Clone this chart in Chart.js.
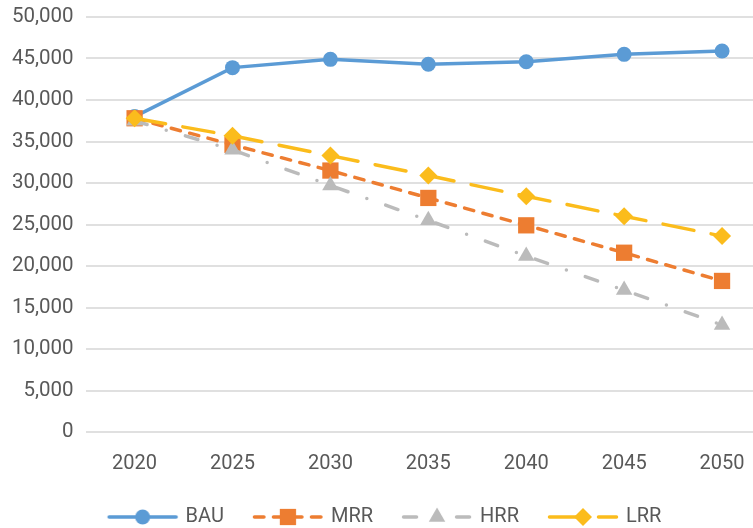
<!DOCTYPE html>
<html>
<head>
<meta charset="utf-8">
<script src="https://cdn.jsdelivr.net/npm/chart.js@4.4.1/dist/chart.umd.min.js"></script>
<style>
  html, body { margin: 0; padding: 0; background: #fff; overflow: hidden; }
  canvas { display: block; }
</style>
</head>
<body>
<canvas id="chart" width="771" height="537"></canvas>
<script>
// data
const years = ["2020", "2025", "2030", "2035", "2040", "2045", "2050"];
const bau = [38000, 43900, 44900, 44300, 44600, 45500, 45900];
const mrr = [37800, 34600, 31500, 28200, 24900, 21600, 18200];
const hrr = [37500, 34000, 29700, 25500, 21200, 17100, 12900];
const lrr = [37800, 35700, 33300, 30900, 28400, 26000, 23600];

const textColor = "#595959";
const gridColor = "#E0E0E0";
const fontFamily = "Roboto, 'Liberation Sans', sans-serif";

const series = [
  { label: "BAU", data: bau, color: "#5B9BD5", dash: [], point: "circle", radius: 7.5 },
  { label: "MRR", data: mrr, color: "#ED7D31", dash: [9.5, 9.5], point: "rect", radius: 11.5 },
  { label: "HRR", data: hrr, color: "#BBBBBB", dash: [13, 20, 0, 20], point: "triangle", radius: 9.5 },
  { label: "LRR", data: lrr, color: "#FBBC1C", dash: [31.5, 17.5], point: "rectRot", radius: 9 },
];

// small canvas with line + marker, used as the legend symbol
// (a bit wider than the legend box so the gaps come out like the original)
function legendIcon(s) {
  const c = document.createElement("canvas");
  c.width = 74;
  c.height = 22;
  const g = c.getContext("2d");
  const cy = c.height / 2, cx = c.width / 2;
  g.strokeStyle = s.color;
  g.lineWidth = 3.5;
  g.lineCap = "round";
  g.setLineDash(s.dash);
  g.beginPath();
  g.moveTo(3.5, cy);
  g.lineTo(c.width - 3.5, cy);
  g.stroke();
  g.setLineDash([]);
  g.fillStyle = s.color;
  g.beginPath();
  const r = s.radius;
  if (s.point === "circle") {
    g.arc(cx, cy, r, 0, Math.PI * 2);
  } else if (s.point === "rect") {
    const h = r * Math.SQRT1_2;
    g.rect(cx - h, cy - h, h * 2, h * 2);
  } else if (s.point === "triangle") {
    g.moveTo(cx, cy - r);
    g.lineTo(cx + r * 0.866, cy + r * 0.5);
    g.lineTo(cx - r * 0.866, cy + r * 0.5);
  } else {
    g.moveTo(cx - r, cy);
    g.lineTo(cx, cy - r);
    g.lineTo(cx + r, cy);
    g.lineTo(cx, cy + r);
  }
  g.closePath();
  g.fill();
  return c;
}

const icons = series.map(legendIcon);

new Chart(document.getElementById("chart"), {
  type: "line",
  data: {
    labels: years,
    datasets: series.map((s, i) => ({
      label: s.label,
      data: s.data,
      borderColor: s.color,
      backgroundColor: s.color,
      borderWidth: 3.5,
      borderDash: s.dash,
      borderCapStyle: "round",
      pointStyle: s.point,
      pointRadius: s.radius,
      pointHoverRadius: s.radius,
      pointBorderWidth: 0,
      tension: 0,
      clip: false,
      order: series.length - i, // later series on top, like the original
    })),
  },
  options: {
    responsive: false,
    animation: false,
    layout: { autoPadding: false, padding: 0 },
    scales: {
      x: {
        offset: true,
        grid: { display: false, drawTicks: false },
        border: { display: false },
        ticks: { color: textColor, font: { family: fontFamily, size: 20 }, padding: 20 },
        afterFit: (scale) => { scale.height = 44; },
      },
      y: {
        min: 0,
        max: 50000,
        grid: { color: gridColor, lineWidth: 2, drawTicks: false },
        border: { display: false },
        ticks: {
          stepSize: 5000,
          color: textColor,
          font: { family: fontFamily, size: 20.5 },
          padding: 12,
          callback: (v) => v.toLocaleString("en-US"),
        },
        afterFit: (scale) => { scale.paddingTop = 17; },
      },
    },
    plugins: {
      tooltip: { enabled: false },
      legend: {
        position: "bottom",
        labels: {
          usePointStyle: true,
          pointStyleWidth: 66,
          padding: 31,
          color: textColor,
          font: { family: fontFamily, size: 20 },
          generateLabels: (chart) =>
            chart.data.datasets.map((ds, i) => ({
              text: ds.label,
              pointStyle: icons[i],
              fillStyle: ds.borderColor,
              strokeStyle: ds.borderColor,
              lineWidth: 0,
              fontColor: textColor,
              hidden: false,
              datasetIndex: i,
            })),
        },
      },
    },
  },
});
</script>
</body>
</html>
